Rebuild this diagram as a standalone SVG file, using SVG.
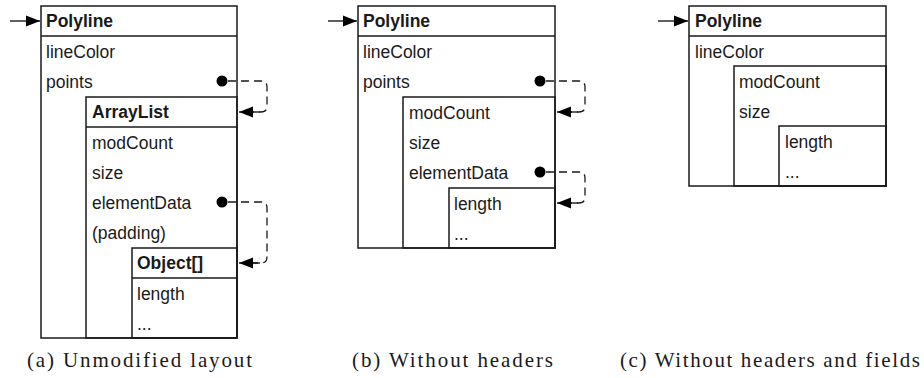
<svg xmlns="http://www.w3.org/2000/svg" width="924" height="378" viewBox="0 0 924 378">
<defs>
<style>
.box{fill:none;stroke:#1a1a1a;stroke-width:1.5}
.hl{stroke:#1a1a1a;stroke-width:1.3}
.t{font-family:"Liberation Sans",Arial,sans-serif;font-size:17.5px;fill:#1a1a1a}
.b{font-weight:bold}
.cap{font-family:"Liberation Serif","Times New Roman",serif;font-size:21px;fill:#1a1a1a}
.ptr{fill:none;stroke:#1a1a1a;stroke-width:1.3;stroke-dasharray:8,5}
.entry{stroke:#1a1a1a;stroke-width:1.4}
.dot{fill:#000}
</style>
<marker id="ah" markerUnits="userSpaceOnUse" markerWidth="16" markerHeight="14" refX="14" refY="7" orient="auto">
<path d="M0,1.5 L14,7 L0,12.5 Z" fill="#000"/>
</marker>
</defs>

<!-- Panel (a) -->
<g id="a-polyline">
<rect class="box" x="41" y="6" width="196" height="332"/>
<line class="hl" x1="41" y1="36" x2="237" y2="36"/>
<text class="t b" x="46" y="27">Polyline</text>
<text class="t" x="46" y="58">lineColor</text>
<text class="t" x="46" y="88">points</text>
<circle class="dot" cx="222" cy="81" r="5.5"/>
</g>
<g id="a-arraylist">
<rect class="box" x="86" y="97" width="151" height="241"/>
<line class="hl" x1="86" y1="127" x2="237" y2="127"/>
<text class="t b" x="92" y="118">ArrayList</text>
<text class="t" x="92" y="149">modCount</text>
<text class="t" x="92" y="179">size</text>
<text class="t" x="92" y="209">elementData</text>
<text class="t" x="92" y="239">(padding)</text>
<circle class="dot" cx="222" cy="202" r="5.5"/>
</g>
<g id="a-object">
<rect class="box" x="132" y="248" width="105" height="90"/>
<line class="hl" x1="132" y1="278" x2="237" y2="278"/>
<text class="t b" x="137" y="269">Object[]</text>
<text class="t" x="137" y="300">length</text>
<text class="t" x="137" y="330">...</text>
</g>

<!-- Panel (b) -->
<g id="b-polyline">
<rect class="box" x="358" y="6" width="197" height="242"/>
<line class="hl" x1="358" y1="36" x2="555" y2="36"/>
<text class="t b" x="363" y="27">Polyline</text>
<text class="t" x="363" y="58">lineColor</text>
<text class="t" x="363" y="88">points</text>
<circle class="dot" cx="540" cy="81" r="5.5"/>
</g>
<g id="b-arraylist">
<rect class="box" x="403" y="97" width="152" height="151"/>
<text class="t" x="409" y="119">modCount</text>
<text class="t" x="409" y="149">size</text>
<text class="t" x="409" y="179">elementData</text>
<circle class="dot" cx="540" cy="172" r="5.5"/>
</g>
<g id="b-object">
<rect class="box" x="449" y="188" width="106" height="60"/>
<text class="t" x="454" y="210">length</text>
<text class="t" x="454" y="240">...</text>
</g>

<!-- Panel (c) -->
<g id="c-polyline">
<rect class="box" x="689" y="6" width="197" height="180"/>
<line class="hl" x1="689" y1="36" x2="886" y2="36"/>
<text class="t b" x="695" y="27">Polyline</text>
<text class="t" x="695" y="58">lineColor</text>
</g>
<g id="c-arraylist">
<rect class="box" x="734" y="66" width="152" height="120"/>
<text class="t" x="739" y="88">modCount</text>
<text class="t" x="739" y="118">size</text>
</g>
<g id="c-object">
<rect class="box" x="779" y="126" width="107" height="60"/>
<text class="t" x="785" y="148">length</text>
<text class="t" x="785" y="178">...</text>
</g>

<!-- Connectors -->
<g id="connectors">
<line class="entry" x1="10" y1="21" x2="40" y2="21" marker-end="url(#ah)"/>
<line class="entry" x1="328" y1="21" x2="357" y2="21" marker-end="url(#ah)"/>
<line class="entry" x1="658" y1="21" x2="688" y2="21" marker-end="url(#ah)"/>
<path class="ptr" d="M228,81 H261 Q267,81 267,87 V106 Q267,112 261,112 H253"/>
<line class="entry" x1="260" y1="112" x2="239" y2="112" marker-end="url(#ah)"/>
<path class="ptr" d="M228,202 H261 Q267,202 267,208 V257 Q267,263 261,263 H253"/>
<line class="entry" x1="260" y1="263" x2="239" y2="263" marker-end="url(#ah)"/>
<path class="ptr" d="M546,81 H579 Q585,81 585,87 V106 Q585,112 579,112 H571"/>
<line class="entry" x1="578" y1="112" x2="557" y2="112" marker-end="url(#ah)"/>
<path class="ptr" d="M546,172 H579 Q585,172 585,178 V197 Q585,203 579,203 H571"/>
<line class="entry" x1="578" y1="203" x2="557" y2="203" marker-end="url(#ah)"/>
</g>

<!-- Captions -->
<text class="cap" x="27" y="367" textLength="225" lengthAdjust="spacing">(a) Unmodified layout</text>
<text class="cap" x="352" y="367" textLength="201" lengthAdjust="spacing">(b) Without headers</text>
<text class="cap" x="620" y="367" textLength="300" lengthAdjust="spacing">(c) Without headers and fields</text>
</svg>
